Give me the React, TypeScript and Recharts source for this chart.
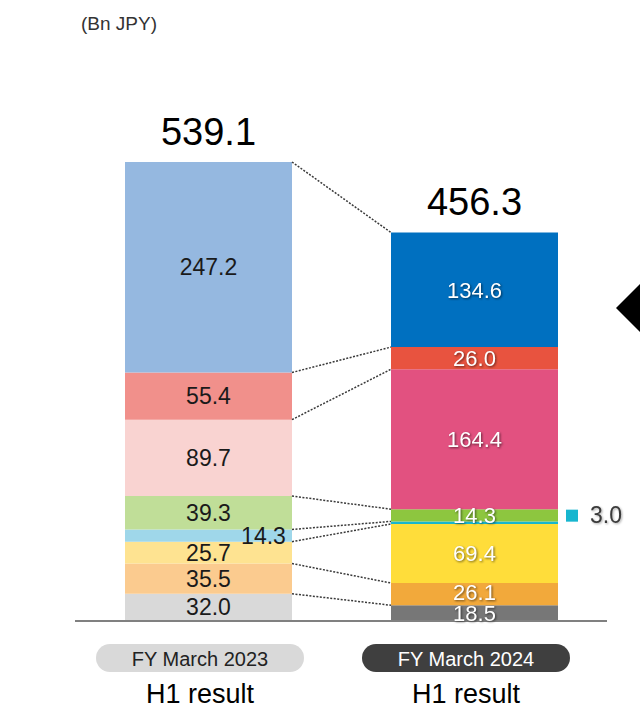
import React from "react";
import { BarChart, Bar, XAxis, YAxis, Cell, LabelList } from "recharts";

// Bn JPY, segments listed bottom -> top
const categories = ["FY March 2023", "FY March 2024"];
const periodLabel = "H1 result";
const fy2023H1 = [32.0, 35.5, 25.7, 14.3, 39.3, 89.7, 55.4, 247.2];
const fy2024H1 = [18.5, 26.1, 69.4, 3.0, 14.3, 164.4, 26.0, 134.6];
const totals = [539.1, 456.3];

const colors2023 = ["#d9d9d9", "#fbcb8f", "#fee391", "#9fd7ea", "#c0de98", "#f9d3d1", "#f1908b", "#95b8e0"];
const colors2024 = ["#777777", "#f2a93b", "#ffdd3a", "#17b6cf", "#8dc63f", "#e25180", "#e8533f", "#0070c0"];

const FONT = '"Liberation Sans", Arial, sans-serif';
const W = 640;
const H = 716;
const M = { top: 162, right: 33, bottom: 15, left: 75 };
const BAR = 167;
const AXIS_H = 80;

const band = (W - M.left - M.right) / categories.length;

const keys = fy2023H1.map((_, i) => `s${i}`);
const series = [fy2023H1, fy2024H1];
const palettes = [colors2023, colors2024];

const data = categories.map((name, c) => {
  const row: Record<string, any> = { name };
  keys.forEach((k, i) => (row[k] = series[c][i]));
  return row;
});

const cumulative = (vals: number[]) => {
  let s = 0;
  return vals.map((v) => (s += v));
};
const cum2023 = cumulative(fy2023H1);
const cum2024 = cumulative(fy2024H1);

function box(props: any) {
  const vb = props.viewBox || {};
  return {
    x: props.x ?? vb.x,
    y: props.y ?? vb.y,
    width: props.width ?? vb.width,
    height: props.height ?? vb.height,
  };
}

function SegLabel(props: any) {
  const { x, y, width, height } = box(props);
  const { index, value, seg } = props;
  const cx = x + width / 2;
  const cy = y + height / 2;
  const txt = Number(value).toFixed(1);
  if (index === 0) {
    // dotted connector from the top of this segment to the top of the matching one on the right
    const ppu = height / value;
    const y2 = y + (cum2023[seg] - cum2024[seg]) * ppu;
    const dx = seg === 3 ? 55 : 0;
    return (
      <g>
        <line x1={x + width} y1={y} x2={x + band} y2={y2} stroke="#3a3a3a" strokeWidth={1.5} strokeDasharray="2 1.5" />
        <text x={cx + dx} y={cy + 8} textAnchor="middle" fontSize={23} fontFamily={FONT} fill="#1a1a1a">
          {txt}
        </text>
      </g>
    );
  }
  if (seg === 3) {
    return (
      <g>
        <rect x={x + width + 8} y={cy - 13} width={12} height={12} fill="#17b6cf" />
        <text x={x + width + 32} y={cy} fontSize={23} fontFamily={FONT} fill="#3a3a3a"
          style={{ filter: "drop-shadow(1px 1px 1px rgba(0,0,0,0.35))" }}>
          {txt}
        </text>
      </g>
    );
  }
  const lift = seg === 1 ? -2 : 0;
  return (
    <text x={cx} y={cy + 8 + lift} textAnchor="middle" fontSize={22} fontFamily={FONT} fill="#ffffff"
      style={{ filter: "drop-shadow(1px 1px 1px rgba(0,0,0,0.55))" }}>
      {txt}
    </text>
  );
}

function TotalLabel(props: any) {
  const { x, y, width } = box(props);
  return (
    <text x={x + width / 2} y={y - 17} textAnchor="middle" fontSize={38} fontFamily={FONT} fill="#000">
      {totals[props.index].toFixed(1)}
    </text>
  );
}

function CategoryTick(props: any) {
  const { x, y, payload, index } = props;
  const dark = index === 1;
  const cx = x - 8;
  return (
    <g>
      <rect x={cx - 104} y={y + 23} width={208} height={28} rx={14} fill={dark ? "#3f3f3f" : "#d9d9d9"} />
      <text x={cx} y={y + 45} textAnchor="middle" fontSize={20} fontFamily={FONT} fill={dark ? "#ffffff" : "#222222"}>
        {payload.value}
      </text>
      <text x={cx} y={y + 82} textAnchor="middle" fontSize={27} fontFamily={FONT} fill="#000">
        {periodLabel}
      </text>
    </g>
  );
}

export default function App() {
  return (
    <div style={{ position: "absolute", left: 0, top: 0, width: W, height: H, background: "#fff", overflow: "hidden" }}>
      <div style={{ position: "absolute", left: 81, top: 13, fontFamily: FONT, fontSize: 19, color: "#333" }}>(Bn JPY)</div>
      <BarChart width={W} height={H} data={data} margin={M} barSize={BAR}>
        <XAxis dataKey="name" height={AXIS_H} axisLine={{ stroke: "#808080", strokeWidth: 2 }} tickLine={false}
          tickSize={0} tickMargin={0} interval={0} tick={<CategoryTick />} />
        <YAxis domain={[0, totals[0]]} allowDataOverflow hide />
        {keys.map((k, i) => (
          <Bar key={k} dataKey={k} stackId="a" isAnimationActive={false}>
            {data.map((_, c) => (
              <Cell key={c} fill={palettes[c][i]} />
            ))}
            <LabelList dataKey={k} content={(p: any) => <SegLabel {...p} seg={i} />} />
            {i === keys.length - 1 && <LabelList dataKey={k} content={(p: any) => <TotalLabel {...p} />} />}
          </Bar>
        ))}
      </BarChart>
      <svg width={W} height={H} style={{ position: "absolute", left: 0, top: 0, pointerEvents: "none" }}>
        <polygon points="616,308 641,283 641,333" fill="#000" />
      </svg>
    </div>
  );
}
